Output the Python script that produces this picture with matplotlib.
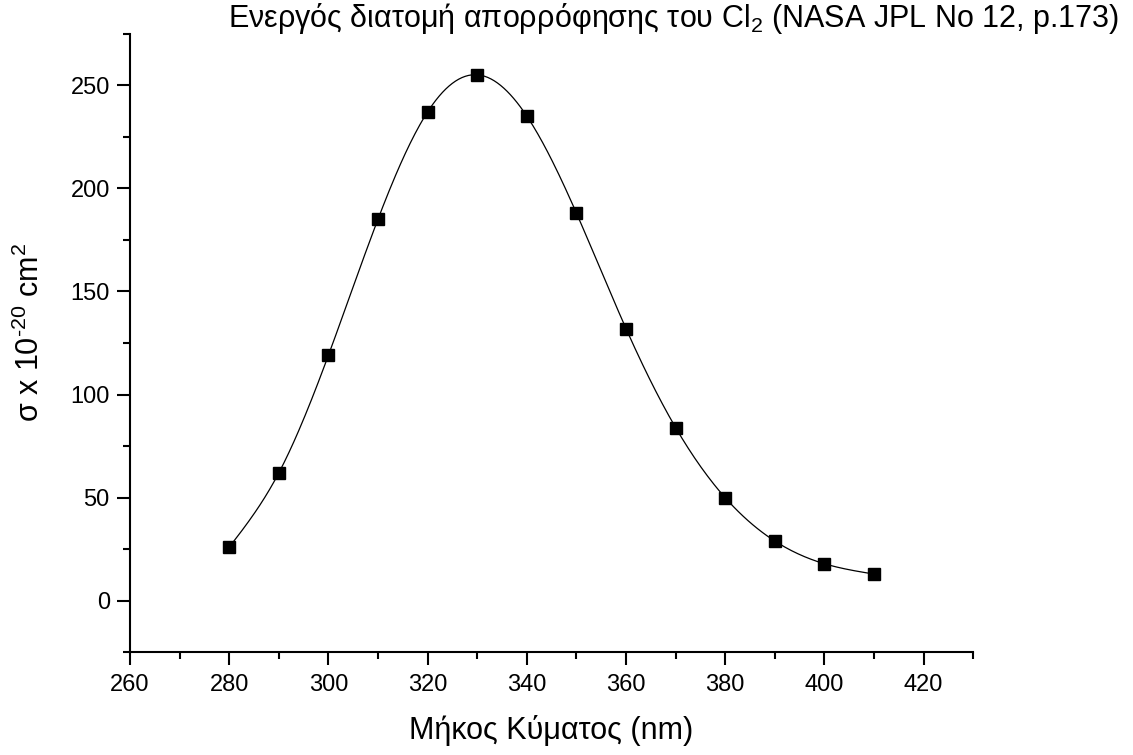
import matplotlib
matplotlib.use('Agg')
import matplotlib.pyplot as plt
import numpy as np

plt.rcParams['font.family'] = ['Liberation Sans', 'DejaVu Sans']
plt.rcParams['mathtext.fontset'] = 'custom'
plt.rcParams['mathtext.rm'] = 'Liberation Sans'
plt.rcParams['mathtext.it'] = 'Liberation Sans'

wavelength = [280, 290, 300, 310, 320, 330, 340, 350, 360, 370, 380, 390, 400, 410]
sigma = [26, 62, 119, 185, 237, 255, 235, 188, 132, 84, 50, 29, 18, 13]


def natural_spline(x, y, n=400):
    # smooth line through the points (natural cubic spline)
    x = np.asarray(x, float)
    y = np.asarray(y, float)
    h = np.diff(x)
    m = len(x)
    A = np.zeros((m, m))
    r = np.zeros(m)
    A[0, 0] = A[-1, -1] = 1
    for i in range(1, m - 1):
        A[i, i - 1] = h[i - 1]
        A[i, i] = 2 * (h[i - 1] + h[i])
        A[i, i + 1] = h[i]
        r[i] = 6 * ((y[i + 1] - y[i]) / h[i] - (y[i] - y[i - 1]) / h[i - 1])
    M = np.linalg.solve(A, r)
    xs = np.linspace(x[0], x[-1], n)
    k = np.clip(np.searchsorted(x, xs) - 1, 0, m - 2)
    t0 = x[k + 1] - xs
    t1 = xs - x[k]
    hk = h[k]
    ys = (M[k] * t0**3 / (6 * hk) + M[k + 1] * t1**3 / (6 * hk)
          + (y[k] / hk - M[k] * hk / 6) * t0 + (y[k + 1] / hk - M[k + 1] * hk / 6) * t1)
    return xs, ys


fig = plt.figure(figsize=(11.33, 7.55), dpi=100)
ax = fig.add_axes([0.1147, 0.1358, 0.7443, 0.8198])

xs, ys = natural_spline(wavelength, sigma)
ax.plot(xs, ys, color='black', lw=0.9)
ax.plot(wavelength, sigma, 's', color='black', ms=8.5)

ax.set_xlim(260, 430)
ax.set_ylim(-25, 275)
ax.set_xticks(np.arange(260, 421, 20))
ax.set_xticks(np.arange(270, 431, 20), minor=True)
ax.set_yticks(np.arange(0, 251, 50))
ax.set_yticks(np.arange(-25, 276, 50), minor=True)

ax.spines['top'].set_visible(False)
ax.spines['right'].set_visible(False)
for s in ('left', 'bottom'):
    ax.spines[s].set_linewidth(1.5)
ax.tick_params(which='major', direction='out', length=9.5, width=1.5, labelsize=17)
ax.tick_params(which='minor', direction='out', length=5, width=1.5)
ax.tick_params(axis='x', which='major', pad=6)
ax.tick_params(axis='y', which='major', pad=5)

ax.set_xlabel('Μήκος Κύματος (nm)', fontsize=22, labelpad=14)
ax.set_ylabel(r'σ x 10$^{\text{-20}}$ cm$^{2}$', fontsize=22)
ax.yaxis.set_label_coords(-0.1, 0.517)
fig.text(0.9876, 0.964, r'Ενεργός διατομή απορρόφησης του Cl$_{2}$ (NASA JPL No 12, p.173)',
         ha='right', va='baseline', fontsize=22)

fig.savefig('out.png', dpi=100)
